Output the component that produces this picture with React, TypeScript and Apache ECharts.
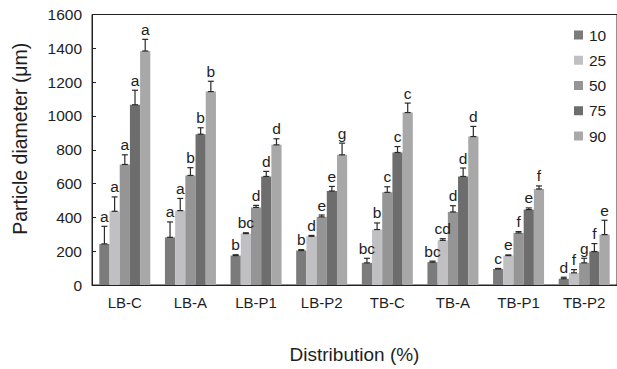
import React, { useEffect, useRef } from "react";
import * as echarts from "echarts";

const categories = ["LB-C", "LB-A", "LB-P1", "LB-P2", "TB-C", "TB-A", "TB-P1", "TB-P2"];
const seriesNames = ["10", "25", "50", "75", "90"];
const seriesColors = ["#7b7b7b", "#c0c0c2", "#959595", "#6d6d6d", "#a8a8a8"];

const d10 = [243, 282, 174, 204, 131, 135, 95, 37];
const d25 = [436, 440, 304, 288, 328, 264, 174, 72];
const d50 = [713, 648, 459, 403, 548, 432, 308, 131];
const d75 = [1066, 892, 642, 556, 784, 642, 446, 198];
const d90 = [1384, 1144, 829, 770, 1020, 878, 568, 298];

const e10 = [104, 91, 5, 5, 27, 6, 3, 9];
const e25 = [85, 72, 5, 5, 39, 10, 4, 19];
const e50 = [57, 46, 12, 11, 33, 37, 8, 27];
const e75 = [86, 38, 30, 27, 35, 50, 10, 47];
const e90 = [69, 61, 36, 69, 56, 60, 18, 85];

const l10 = ["a", "a", "b", "b", "bc", "bc", "c", "d"];
const l25 = ["a", "a", "bc", "d", "b", "cd", "e", "f"];
const l50 = ["a", "b", "d", "e", "c", "d", "f", "g"];
const l75 = ["a", "b", "d", "e", "c", "d", "e", "f"];
const l90 = ["a", "b", "d", "g", "c", "d", "f", "e"];

const yTicks = { min: 0, max: 1600, interval: 200 };

const FONT = "'Liberation Sans', Arial, sans-serif";
const TEXT = "#1e1e1e";
const BAR_W = 10.2;

export default function App() {
  const ref = useRef<HTMLDivElement>(null);

  useEffect(() => {
    if (!ref.current) return;
    const chart = echarts.init(ref.current, null, { renderer: "svg" });
    const values = [d10, d25, d50, d75, d90];
    const errors = [e10, e25, e50, e75, e90];
    const letters = [l10, l25, l50, l75, l90];

    const barSeries = seriesNames.map((name, k) => ({
      type: "bar",
      name,
      data: values[k],
      barWidth: BAR_W,
      barGap: "0%",
      itemStyle: { color: seriesColors[k] },
      z: 2,
    }));

    const errSeries = seriesNames.map((name, k) => ({
      type: "custom",
      name: "err" + name,
      z: 5,
      data: values[k].map((v, i) => [i, v, errors[k][i]]),
      encode: { x: 0, y: 1 },
      renderItem: (params: any, api: any) => {
        const ci = api.value(0);
        const v = api.value(1);
        const e = api.value(2);
        const base = api.coord([ci, v]);
        const top = api.coord([ci, v + e]);
        const x = base[0] + (k - 2) * BAR_W;
        const cap = 3;
        const ls = { stroke: "#2a2a2a", lineWidth: 1.2 };
        return {
          type: "group",
          children: [
            { type: "line", shape: { x1: x, y1: base[1], x2: x, y2: top[1] }, style: ls },
            { type: "line", shape: { x1: x - cap, y1: top[1], x2: x + cap, y2: top[1] }, style: ls },
            { type: "line", shape: { x1: x - cap, y1: base[1], x2: x + cap, y2: base[1] }, style: ls },
            {
              type: "text",
              x: x,
              y: top[1] - 2,
              style: {
                text: letters[k][params.dataIndex],
                fontFamily: FONT,
                fontSize: 15.5,
                fill: TEXT,
                align: "center",
                verticalAlign: "bottom",
              },
            },
          ],
        };
      },
    }));

    chart.setOption({
      animation: false,
      backgroundColor: "#ffffff",
      grid: {
        left: 92,
        top: 14.5,
        width: 526,
        height: 271,
        show: true,
        borderColor: "#222",
        borderWidth: 1,
        backgroundColor: "transparent",
      },
      legend: {
        data: seriesNames,
        orient: "vertical",
        left: 574,
        top: 27,
        icon: "rect",
        itemWidth: 9,
        itemHeight: 9,
        itemGap: 9.25,
        padding: 0,
        textStyle: { fontFamily: FONT, fontSize: 15.5, color: TEXT, lineHeight: 16, padding: [0, 0, 0, 1] },
      },
      xAxis: {
        type: "category",
        data: categories,
        name: "Distribution (%)",
        nameLocation: "middle",
        nameGap: 60,
        nameTextStyle: { fontFamily: FONT, fontSize: 19, color: TEXT },
        axisLine: { lineStyle: { color: "#222", width: 1 } },
        axisTick: { inside: true, length: 4, lineStyle: { color: "#222" } },
        axisLabel: { fontFamily: FONT, fontSize: 15, color: TEXT, margin: 10 },
      },
      yAxis: {
        type: "value",
        min: yTicks.min,
        max: yTicks.max,
        interval: yTicks.interval,
        name: "Particle diameter (\u03bcm)",
        nameLocation: "middle",
        nameGap: 62,
        nameTextStyle: { fontFamily: FONT, fontSize: 19.5, color: TEXT, padding: [0, 0, 0, 22] },
        splitLine: { show: false },
        axisLine: { show: true, lineStyle: { color: "#222", width: 1 } },
        axisTick: { show: true, inside: true, length: 4, lineStyle: { color: "#222" } },
        axisLabel: {
          fontFamily: FONT,
          fontSize: 15.5,
          color: TEXT,
          margin: 10,
          formatter: (v: number) => String(v),
        },
      },
      series: [...barSeries, ...errSeries],
    });
    return () => chart.dispose();
  }, []);

  return (
    <div
      ref={ref}
      style={{ position: "fixed", left: 0, top: 0, width: 617, height: 369, background: "#fff" }}
    />
  );
}
